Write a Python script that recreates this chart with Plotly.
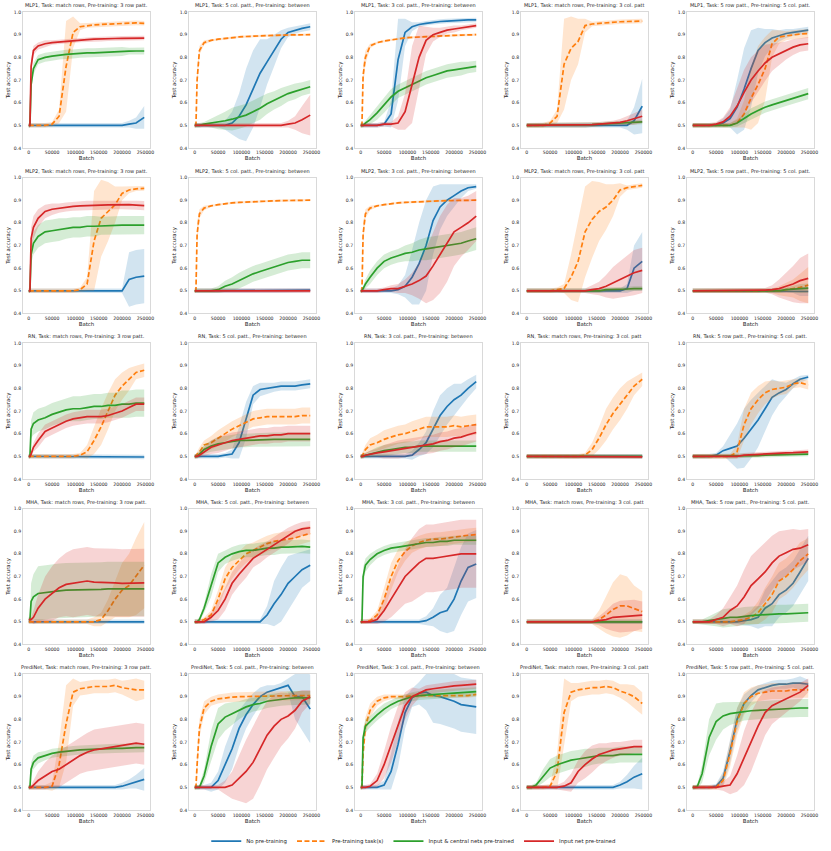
import plotly.graph_objects as go
from plotly.subplots import make_subplots

# --- data ---------------------------------------------------------------
BATCH = [0, 2500, 5000, 10000, 20000, 35000, 50000, 65000, 80000, 95000,
         110000, 125000, 140000, 155000, 170000, 185000, 200000, 215000, 230000, 247500]

MODELS = ["MLP1", "MLP2", "RN", "MHA", "PrediNet"]
TASKS = ["Task: match rows, Pre-training: 3 row patt.",
         "Task: 5 col. patt., Pre-training: between",
         "Task: 3 col. patt., Pre-training: between",
         "Task: match rows, Pre-training: 3 col. patt",
         "Task: 5 row patt., Pre-training: 5 col. patt."]

SERIES = ["No pre-training", "Pre-training task(s)",
          "Input & central nets pre-trained", "Input net pre-trained"]

X_TICKS = [0, 50000, 100000, 150000, 200000, 250000]
Y_TICKS = [0.4, 0.5, 0.6, 0.7, 0.8, 0.9, 1.0]

# each panel: [no pre-training, pre-training task(s), input & central, input net]
# MLP1
p01_mean = [
    [.50,.50,.50,.50,.50,.50,.50,.50,.50,.50, .50,.50,.50,.50,.50,.50,.50,.505,.51,.535],
    [.50,.50,.50,.50,.50,.50,.505,.54,.76,.91, .935,.94,.943,.945,.947,.948,.95,.95,.952,.95],
    [.50,.50,.68,.75,.79,.80,.805,.81,.813,.815, .818,.82,.82,.822,.824,.825,.826,.827,.828,.828],
    [.50,.50,.76,.83,.85,.86,.865,.868,.872,.874, .876,.878,.88,.88,.882,.883,.884,.884,.885,.885]]
p01_sd = [
    [.01,.01,.01,.01,.01,.01,.01,.01,.01,.01, .01,.01,.01,.01,.01,.01,.01,.015,.025,.05],
    [.01,.01,.01,.01,.01,.01,.01,.03,.20,.07, .015,.01,.01,.01,.01,.01,.01,.01,.01,.01],
    [.01,.01,.03,.025,.02,.02,.02,.02,.02,.02, .02,.02,.02,.02,.02,.02,.02,.015,.015,.015],
    [.01,.01,.03,.02,.015,.015,.01,.01,.01,.01, .01,.01,.01,.01,.01,.01,.01,.01,.01,.01]]

p02_mean = [
    [.50,.50,.50,.50,.50,.50,.50,.50,.51,.54, .59,.66,.73,.78,.83,.88,.91,.92,.928,.935],
    [.50,.50,.70,.83,.865,.875,.88,.884,.887,.89, .892,.894,.895,.896,.897,.898,.899,.90,.90,.90],
    [.50,.50,.50,.50,.505,.51,.513,.52,.527,.535, .545,.56,.575,.595,.61,.625,.64,.65,.66,.67],
    [.50,.50,.50,.50,.50,.50,.50,.50,.50,.50, .50,.50,.50,.50,.50,.50,.505,.51,.525,.545]]
p02_sd = [
    [.01,.01,.01,.01,.01,.01,.01,.02,.05,.10, .16,.17,.15,.10,.07,.04,.02,.015,.015,.015],
    [.01,.01,.05,.02,.01,.005,.005,.005,.005,.005, .005,.005,.005,.005,.005,.005,.005,.005,.005,.005],
    [.01,.01,.01,.01,.01,.02,.03,.04,.05,.05, .05,.05,.05,.045,.04,.04,.035,.035,.03,.03],
    [.01,.01,.01,.01,.01,.01,.01,.01,.01,.01, .01,.01,.01,.01,.01,.01,.015,.03,.06,.09]]

p03_mean = [
    [.50,.50,.50,.50,.50,.50,.505,.55,.79,.91, .935,.945,.95,.955,.958,.96,.962,.963,.965,.965],
    [.50,.50,.72,.80,.85,.865,.872,.877,.882,.886, .888,.89,.892,.893,.895,.896,.897,.898,.899,.90],
    [.50,.50,.50,.51,.525,.555,.59,.625,.65,.665, .68,.695,.71,.72,.73,.74,.745,.75,.755,.76],
    [.50,.50,.50,.50,.50,.50,.505,.505,.51,.56, .68,.80,.875,.90,.91,.92,.925,.93,.935,.94]]
p03_sd = [
    [.01,.01,.01,.01,.01,.01,.01,.06,.18,.06, .02,.01,.01,.01,.01,.01,.01,.01,.01,.01],
    [.01,.01,.05,.03,.01,.005,.005,.005,.005,.005, .005,.005,.005,.005,.005,.005,.005,.005,.005,.005],
    [.01,.01,.01,.01,.02,.03,.035,.035,.03,.03, .03,.03,.03,.03,.03,.03,.03,.03,.025,.025],
    [.01,.01,.01,.01,.01,.01,.01,.01,.03,.08, .17,.14,.06,.03,.02,.015,.015,.01,.01,.01]]

p04_mean = [
    [.50,.50,.50,.50,.50,.50,.50,.50,.50,.50, .50,.50,.50,.50,.50,.50,.50,.50,.52,.585],
    [.50,.50,.50,.50,.50,.50,.51,.54,.77,.84, .87,.94,.947,.95,.952,.955,.957,.958,.96,.96],
    [.50,.50,.50,.50,.50,.50,.50,.50,.50,.50, .50,.50,.503,.505,.507,.508,.51,.512,.514,.515],
    [.50,.50,.50,.50,.50,.50,.50,.50,.50,.50, .50,.50,.503,.505,.507,.51,.513,.52,.528,.54]]
p04_sd = [
    [.01,.01,.01,.01,.01,.01,.01,.01,.01,.01, .01,.01,.01,.01,.01,.01,.01,.02,.06,.12],
    [.01,.01,.01,.01,.01,.01,.01,.03,.20,.14, .10,.03,.01,.01,.01,.01,.01,.01,.01,.01],
    [.01,.01,.01,.01,.01,.01,.01,.01,.01,.01, .01,.01,.01,.01,.01,.01,.01,.01,.01,.01],
    [.01,.01,.01,.01,.01,.01,.01,.01,.01,.01, .01,.01,.01,.01,.01,.01,.015,.02,.025,.03]]

p05_mean = [
    [.50,.50,.50,.50,.50,.50,.50,.51,.53,.58, .66,.75,.83,.865,.885,.895,.905,.91,.915,.92],
    [.50,.50,.50,.50,.50,.50,.50,.50,.50,.51, .55,.62,.68,.75,.86,.89,.895,.90,.903,.905],
    [.50,.50,.50,.50,.50,.50,.50,.50,.50,.51, .53,.55,.565,.58,.59,.60,.61,.62,.63,.64],
    [.50,.50,.50,.50,.50,.50,.505,.515,.54,.585, .645,.70,.74,.775,.80,.815,.83,.845,.855,.86]]
p05_sd = [
    [.01,.01,.01,.01,.01,.01,.01,.02,.04,.12, .18,.17,.10,.06,.04,.025,.02,.015,.015,.015],
    [.01,.01,.01,.01,.01,.01,.01,.01,.01,.02, .06,.14,.17,.14,.06,.03,.02,.02,.02,.02],
    [.01,.01,.01,.01,.01,.01,.01,.01,.01,.015, .02,.025,.025,.025,.025,.025,.025,.025,.025,.025],
    [.01,.01,.01,.01,.01,.01,.01,.02,.04,.08, .10,.10,.09,.08,.06,.05,.04,.035,.03,.03]]

# MLP2
p06_mean = [
    [.50,.50,.50,.50,.50,.50,.50,.50,.50,.50, .50,.50,.50,.50,.50,.50,.50,.55,.56,.565],
    [.50,.50,.50,.50,.50,.50,.50,.50,.50,.50, .505,.53,.72,.82,.85,.88,.93,.945,.95,.952],
    [.50,.50,.66,.71,.74,.76,.765,.77,.775,.78, .78,.785,.785,.787,.788,.79,.79,.79,.79,.79],
    [.50,.50,.73,.78,.82,.85,.86,.865,.87,.873, .875,.877,.878,.878,.879,.88,.88,.88,.878,.876]]
p06_sd = [
    [.01,.01,.01,.01,.01,.01,.01,.01,.01,.01, .01,.01,.01,.01,.01,.01,.01,.12,.12,.12],
    [.01,.01,.01,.01,.01,.01,.01,.01,.01,.01, .01,.03,.22,.17,.13,.08,.03,.015,.01,.01],
    [.01,.01,.04,.05,.05,.05,.05,.05,.045,.045, .045,.045,.045,.04,.04,.04,.04,.04,.04,.04],
    [.01,.01,.05,.05,.04,.03,.025,.02,.02,.02, .02,.02,.02,.02,.02,.02,.02,.02,.02,.02]]

p07_mean = [
    [.50,.50,.50,.50,.50,.50,.50,.50,.50,.50, .50,.50,.50,.50,.50,.50,.50,.50,.502,.503],
    [.50,.50,.75,.84,.865,.875,.88,.885,.888,.89, .892,.894,.895,.896,.897,.898,.899,.90,.90,.90],
    [.50,.50,.50,.50,.50,.50,.505,.52,.53,.545, .56,.575,.585,.595,.605,.615,.625,.63,.635,.635],
    [.50,.50,.50,.50,.50,.50,.50,.50,.50,.50, .50,.50,.50,.50,.50,.50,.50,.50,.50,.50]]
p07_sd = [
    [.01,.01,.01,.01,.01,.01,.01,.01,.01,.01, .01,.01,.01,.01,.01,.01,.01,.01,.01,.01],
    [.01,.01,.05,.02,.01,.005,.005,.005,.005,.005, .005,.005,.005,.005,.005,.005,.005,.005,.005,.005],
    [.01,.01,.01,.01,.01,.01,.015,.025,.03,.035, .035,.035,.035,.035,.035,.035,.035,.035,.035,.035],
    [.01,.01,.01,.01,.01,.01,.01,.01,.01,.01, .01,.01,.01,.01,.01,.01,.01,.01,.01,.01]]

p08_mean = [
    [.50,.50,.50,.50,.50,.50,.50,.50,.505,.52, .56,.62,.70,.81,.87,.90,.92,.94,.955,.96],
    [.50,.50,.75,.84,.865,.875,.88,.885,.888,.89, .892,.894,.895,.896,.897,.898,.899,.90,.90,.90],
    [.50,.50,.51,.53,.56,.60,.63,.645,.655,.665, .67,.68,.685,.69,.695,.70,.705,.71,.72,.73],
    [.50,.50,.50,.50,.50,.50,.505,.51,.51,.52, .53,.545,.565,.61,.66,.71,.76,.78,.80,.83]]
p08_sd = [
    [.01,.01,.01,.01,.01,.01,.01,.01,.02,.05, .12,.18,.20,.15,.10,.07,.05,.03,.015,.01],
    [.01,.01,.05,.02,.01,.005,.005,.005,.005,.005, .005,.005,.005,.005,.005,.005,.005,.005,.005,.005],
    [.01,.01,.01,.02,.03,.03,.03,.03,.03,.035, .04,.045,.05,.05,.05,.05,.05,.05,.05,.05],
    [.01,.01,.01,.01,.01,.01,.01,.015,.02,.03, .05,.08,.12,.15,.17,.17,.15,.13,.12,.11]]

p09_mean = [
    [.50,.50,.50,.50,.50,.50,.50,.50,.50,.50, .50,.50,.50,.50,.50,.50,.50,.51,.60,.63],
    [.50,.50,.50,.50,.50,.50,.50,.505,.51,.56, .63,.76,.815,.85,.87,.90,.945,.955,.96,.965],
    [.50,.50,.50,.50,.50,.50,.50,.50,.50,.50, .50,.50,.50,.50,.505,.505,.507,.508,.51,.51],
    [.50,.50,.50,.50,.50,.50,.50,.50,.50,.50, .50,.50,.505,.51,.52,.535,.55,.565,.58,.59]]
p09_sd = [
    [.01,.01,.01,.01,.01,.01,.01,.01,.01,.01, .01,.01,.01,.01,.01,.01,.01,.02,.10,.13],
    [.01,.01,.01,.01,.01,.01,.01,.01,.02,.10, .18,.20,.17,.13,.10,.07,.03,.01,.01,.01],
    [.01,.01,.01,.01,.01,.01,.01,.01,.01,.01, .01,.01,.01,.01,.01,.01,.01,.01,.01,.01],
    [.01,.01,.01,.01,.01,.01,.01,.01,.01,.01, .01,.01,.02,.03,.05,.07,.08,.09,.10,.10]]

p10_mean = [
    [.50,.50,.50,.50,.50,.50,.50,.50,.50,.50, .50,.50,.50,.50,.50,.50,.50,.50,.497,.497],
    [.50,.50,.50,.50,.50,.50,.50,.50,.50,.50, .50,.50,.50,.50,.50,.50,.505,.51,.515,.525],
    [.50,.50,.50,.50,.50,.50,.50,.50,.50,.50, .50,.50,.50,.50,.50,.50,.505,.507,.51,.512],
    [.50,.50,.50,.50,.50,.50,.50,.50,.50,.50, .50,.50,.50,.503,.505,.51,.52,.53,.545,.555]]
p10_sd = [
    [.01,.01,.01,.01,.01,.01,.01,.01,.01,.01, .01,.01,.01,.01,.01,.01,.01,.01,.02,.02],
    [.01,.01,.01,.01,.01,.01,.01,.01,.01,.01, .01,.01,.01,.01,.01,.02,.03,.04,.06,.08],
    [.01,.01,.01,.01,.01,.01,.01,.01,.01,.01, .01,.01,.01,.01,.01,.01,.01,.015,.02,.02],
    [.01,.01,.01,.01,.01,.01,.01,.01,.01,.01, .01,.01,.01,.01,.02,.04,.06,.08,.10,.11]]

# RN
p11_mean = [
    [.50,.50,.50,.50,.50,.50,.50,.50,.50,.50, .50,.50,.50,.50,.50,.50,.50,.50,.497,.497],
    [.50,.50,.50,.50,.50,.50,.50,.50,.50,.50, .505,.52,.57,.63,.70,.77,.81,.84,.87,.88],
    [.50,.50,.62,.645,.66,.67,.685,.695,.705,.71, .71,.715,.72,.72,.725,.725,.73,.73,.735,.735],
    [.50,.50,.51,.54,.57,.61,.625,.64,.655,.665, .67,.675,.675,.675,.68,.69,.70,.715,.73,.73]]
p11_sd = [
    [.01,.01,.01,.01,.01,.01,.01,.01,.01,.01, .01,.01,.01,.01,.01,.01,.01,.01,.01,.01],
    [.01,.01,.01,.01,.01,.01,.01,.01,.01,.01, .01,.03,.06,.08,.08,.07,.06,.05,.03,.03],
    [.01,.01,.04,.05,.05,.05,.05,.05,.05,.055, .055,.055,.055,.055,.055,.055,.06,.06,.06,.06],
    [.01,.01,.01,.02,.03,.03,.03,.03,.03,.03, .03,.03,.03,.03,.03,.03,.03,.03,.03,.03]]

p12_mean = [
    [.50,.50,.50,.50,.50,.50,.50,.505,.51,.56, .66,.77,.795,.80,.805,.81,.81,.81,.815,.82],
    [.50,.50,.51,.52,.55,.56,.58,.60,.62,.635, .65,.665,.67,.675,.675,.675,.675,.675,.68,.68],
    [.50,.50,.50,.51,.53,.545,.555,.56,.565,.57, .57,.572,.573,.574,.575,.575,.575,.575,.575,.575],
    [.50,.50,.50,.505,.52,.54,.55,.56,.57,.575, .58,.585,.59,.59,.595,.595,.60,.60,.60,.60]]
p12_sd = [
    [.01,.01,.01,.01,.01,.01,.01,.01,.02,.07, .08,.04,.03,.025,.02,.02,.02,.02,.02,.02],
    [.01,.01,.01,.02,.02,.03,.035,.035,.035,.035, .035,.035,.035,.035,.035,.035,.035,.035,.035,.035],
    [.01,.01,.01,.015,.02,.025,.03,.03,.03,.03, .03,.03,.03,.03,.03,.03,.03,.03,.03,.03],
    [.01,.01,.01,.015,.02,.03,.035,.035,.035,.035, .035,.035,.035,.035,.035,.035,.035,.035,.035,.035]]

p13_mean = [
    [.50,.50,.50,.50,.50,.50,.50,.50,.50,.50, .505,.53,.56,.62,.68,.72,.75,.77,.80,.83],
    [.50,.50,.51,.53,.55,.56,.575,.585,.595,.60, .61,.62,.63,.63,.63,.63,.635,.63,.635,.64],
    [.50,.50,.50,.505,.51,.52,.525,.53,.535,.54, .54,.545,.545,.545,.545,.545,.545,.545,.545,.545],
    [.50,.50,.50,.505,.51,.515,.52,.525,.53,.535, .54,.545,.55,.555,.565,.57,.58,.585,.595,.605]]
p13_sd = [
    [.01,.01,.01,.01,.01,.01,.01,.01,.01,.01, .02,.03,.05,.08,.09,.08,.07,.05,.04,.03],
    [.01,.01,.015,.02,.03,.035,.04,.04,.04,.04, .045,.045,.045,.045,.045,.045,.045,.045,.045,.045],
    [.01,.01,.01,.01,.015,.02,.025,.025,.025,.025, .025,.025,.025,.025,.025,.025,.025,.025,.025,.025],
    [.01,.01,.01,.01,.015,.02,.03,.035,.04,.04, .04,.04,.04,.04,.04,.04,.04,.04,.04,.04]]

p14_mean = [
    [.50,.50,.50,.50,.50,.50,.50,.50,.50,.50, .50,.50,.50,.50,.50,.50,.50,.50,.50,.50],
    [.50,.50,.50,.50,.50,.50,.50,.50,.50,.50, .50,.505,.53,.58,.64,.69,.73,.77,.81,.84],
    [.50,.50,.50,.50,.50,.50,.50,.50,.50,.50, .50,.50,.50,.50,.50,.50,.50,.50,.50,.50],
    [.50,.50,.50,.50,.50,.50,.50,.50,.50,.50, .50,.50,.50,.50,.50,.50,.50,.50,.498,.498]]
p14_sd = [
    [.01,.01,.01,.01,.01,.01,.01,.01,.01,.01, .01,.01,.01,.01,.01,.01,.01,.01,.01,.01],
    [.01,.01,.01,.01,.01,.01,.01,.01,.01,.01, .01,.01,.03,.05,.07,.07,.07,.06,.04,.03],
    [.01,.01,.01,.01,.01,.01,.01,.01,.01,.01, .01,.01,.01,.01,.01,.01,.01,.01,.01,.01],
    [.01,.01,.01,.01,.01,.01,.01,.01,.01,.01, .01,.01,.01,.01,.01,.01,.01,.01,.01,.01]]

p15_mean = [
    [.50,.50,.50,.50,.50,.50,.505,.525,.535,.545, .58,.62,.66,.71,.76,.78,.795,.82,.84,.85],
    [.50,.50,.50,.50,.50,.50,.50,.50,.50,.52, .64,.71,.75,.78,.795,.80,.805,.82,.825,.815],
    [.50,.50,.50,.50,.50,.50,.50,.50,.50,.50, .50,.502,.503,.505,.506,.507,.507,.508,.509,.51],
    [.50,.50,.50,.50,.50,.50,.50,.50,.50,.50, .505,.507,.51,.511,.512,.513,.515,.516,.518,.52]]
p15_sd = [
    [.01,.01,.01,.01,.01,.01,.01,.02,.06,.10, .13,.13,.12,.10,.08,.05,.03,.02,.015,.01],
    [.01,.01,.01,.01,.01,.01,.01,.01,.01,.03, .07,.07,.06,.05,.04,.03,.03,.02,.02,.02],
    [.01,.01,.01,.01,.01,.01,.01,.01,.01,.01, .01,.01,.01,.01,.01,.01,.01,.01,.01,.01],
    [.01,.01,.01,.01,.01,.01,.01,.01,.01,.01, .01,.01,.01,.01,.01,.01,.01,.01,.01,.01]]

# MHA
p16_mean = [
    [.50,.50,.50,.50,.50,.50,.50,.50,.50,.50, .50,.50,.50,.50,.50,.50,.50,.50,.50,.50],
    [.50,.50,.50,.50,.50,.50,.50,.50,.50,.50, .50,.50,.50,.51,.55,.60,.64,.66,.70,.75],
    [.51,.51,.59,.61,.625,.63,.635,.637,.64,.64, .64,.642,.642,.643,.645,.645,.647,.648,.645,.645],
    [.51,.51,.51,.52,.56,.60,.625,.65,.665,.67, .675,.68,.675,.675,.675,.672,.67,.67,.672,.672]]
p16_sd = [
    [.01,.01,.01,.01,.01,.01,.01,.01,.01,.01, .01,.01,.01,.01,.01,.01,.01,.01,.01,.01],
    [.01,.01,.01,.01,.01,.01,.01,.01,.01,.01, .01,.01,.02,.03,.05,.08,.12,.14,.17,.19],
    [.01,.01,.08,.10,.12,.12,.12,.12,.12,.12, .12,.12,.12,.12,.12,.12,.12,.12,.12,.12],
    [.01,.01,.01,.03,.06,.10,.12,.13,.14,.15, .15,.15,.15,.15,.15,.15,.15,.15,.15,.15]]

p17_mean = [
    [.50,.50,.50,.50,.50,.50,.50,.50,.50,.50, .50,.50,.50,.53,.58,.62,.67,.70,.73,.75],
    [.50,.50,.50,.50,.51,.53,.60,.69,.74,.77, .80,.815,.83,.845,.855,.86,.865,.87,.88,.89],
    [.50,.50,.50,.51,.56,.66,.76,.785,.80,.81, .815,.815,.82,.825,.825,.83,.83,.833,.833,.83],
    [.50,.50,.50,.50,.50,.52,.55,.60,.67,.71, .745,.78,.80,.82,.84,.86,.88,.90,.91,.915]]
p17_sd = [
    [.01,.01,.01,.01,.01,.01,.01,.01,.01,.01, .01,.01,.01,.04,.10,.12,.12,.10,.08,.07],
    [.01,.01,.01,.01,.01,.02,.04,.05,.05,.04, .04,.035,.035,.035,.035,.035,.035,.035,.035,.035],
    [.01,.01,.01,.01,.02,.05,.04,.03,.03,.03, .03,.03,.03,.03,.03,.03,.03,.03,.03,.03],
    [.01,.01,.01,.01,.01,.02,.04,.05,.05,.05, .05,.04,.04,.035,.035,.035,.035,.03,.03,.03]]

p18_mean = [
    [.50,.50,.50,.50,.50,.50,.50,.50,.50,.50, .50,.50,.505,.52,.54,.55,.60,.68,.74,.755],
    [.50,.50,.50,.50,.505,.53,.60,.70,.77,.81, .835,.85,.86,.865,.865,.87,.875,.88,.882,.885],
    [.50,.50,.70,.75,.775,.80,.815,.825,.83,.835, .84,.845,.85,.85,.855,.855,.86,.86,.86,.86],
    [.50,.50,.50,.50,.50,.51,.55,.60,.65,.70, .73,.76,.78,.78,.785,.79,.795,.80,.80,.80]]
p18_sd = [
    [.01,.01,.01,.01,.01,.01,.01,.01,.01,.01, .01,.01,.02,.04,.08,.10,.14,.15,.15,.15],
    [.01,.01,.01,.01,.01,.02,.05,.06,.05,.04, .03,.03,.03,.03,.03,.03,.03,.03,.03,.03],
    [.01,.01,.04,.03,.025,.02,.02,.02,.02,.02, .02,.02,.02,.02,.02,.02,.02,.02,.02,.02],
    [.01,.01,.01,.01,.01,.02,.05,.08,.10,.12, .14,.15,.15,.15,.15,.15,.15,.15,.15,.15]]

p19_mean = [
    [.50,.50,.50,.50,.50,.50,.50,.50,.50,.50, .50,.50,.50,.50,.50,.50,.50,.50,.50,.50],
    [.50,.50,.50,.50,.50,.50,.50,.50,.50,.50, .50,.50,.50,.51,.53,.555,.57,.57,.56,.545],
    [.50,.50,.50,.50,.50,.50,.50,.50,.50,.50, .50,.50,.50,.50,.50,.50,.50,.50,.50,.50],
    [.50,.50,.50,.50,.50,.50,.50,.50,.50,.50, .50,.50,.50,.505,.51,.52,.523,.525,.528,.53]]
p19_sd = [
    [.01,.01,.01,.01,.01,.01,.01,.01,.01,.01, .01,.01,.01,.01,.01,.01,.01,.01,.01,.01],
    [.01,.01,.01,.01,.01,.01,.01,.01,.01,.01, .01,.01,.01,.04,.08,.12,.14,.13,.10,.09],
    [.01,.01,.01,.01,.01,.01,.01,.01,.01,.01, .01,.01,.01,.01,.01,.01,.01,.01,.01,.01],
    [.01,.01,.01,.01,.01,.01,.01,.01,.01,.01, .01,.01,.01,.02,.04,.06,.07,.07,.07,.06]]

p20_mean = [
    [.50,.50,.50,.50,.50,.50,.50,.50,.50,.50, .505,.51,.52,.56,.58,.62,.64,.67,.72,.78],
    [.50,.50,.50,.50,.50,.50,.50,.50,.50,.505, .51,.52,.54,.58,.62,.68,.70,.73,.77,.80],
    [.50,.50,.50,.50,.50,.505,.51,.515,.52,.52, .525,.527,.53,.532,.535,.535,.535,.537,.54,.54],
    [.50,.50,.50,.50,.50,.50,.51,.52,.55,.57, .61,.66,.69,.72,.76,.79,.805,.82,.825,.84]]
p20_sd = [
    [.01,.01,.01,.01,.01,.01,.01,.01,.01,.01, .02,.03,.05,.08,.10,.10,.10,.10,.10,.10],
    [.01,.01,.01,.01,.01,.01,.01,.01,.01,.01, .02,.03,.05,.07,.08,.08,.08,.08,.08,.07],
    [.01,.01,.01,.01,.01,.02,.03,.04,.04,.04, .04,.04,.04,.04,.04,.04,.04,.04,.04,.04],
    [.01,.01,.01,.01,.01,.01,.02,.04,.06,.09, .12,.13,.13,.13,.12,.11,.10,.09,.08,.07]]

# PrediNet
p21_mean = [
    [.50,.50,.50,.50,.50,.50,.50,.50,.50,.50, .50,.50,.50,.50,.50,.50,.505,.515,.525,.535],
    [.50,.50,.50,.50,.50,.50,.505,.60,.78,.92, .935,.94,.945,.945,.945,.95,.94,.935,.93,.93],
    [.50,.50,.58,.61,.63,.64,.65,.655,.66,.662, .665,.667,.668,.67,.67,.672,.672,.674,.675,.675],
    [.50,.50,.50,.51,.53,.55,.57,.58,.60,.62, .64,.655,.665,.67,.675,.68,.685,.69,.695,.69]]
p21_sd = [
    [.01,.01,.01,.01,.01,.01,.01,.01,.01,.01, .01,.01,.01,.01,.01,.01,.015,.02,.03,.05],
    [.01,.01,.01,.01,.01,.01,.02,.10,.17,.06, .03,.03,.03,.03,.03,.03,.03,.04,.05,.04],
    [.01,.01,.03,.03,.025,.02,.02,.02,.02,.02, .02,.02,.02,.02,.02,.02,.02,.02,.02,.02],
    [.01,.01,.01,.02,.04,.06,.07,.08,.08,.08, .08,.085,.09,.09,.09,.09,.09,.09,.09,.09]]

p22_mean = [
    [.50,.50,.50,.50,.50,.50,.53,.60,.67,.76, .82,.865,.90,.92,.93,.94,.95,.90,.90,.845],
    [.50,.50,.60,.76,.85,.88,.89,.895,.898,.90, .90,.90,.901,.902,.903,.904,.905,.905,.905,.905],
    [.50,.50,.50,.50,.55,.68,.78,.81,.825,.84, .855,.865,.87,.88,.885,.89,.892,.895,.895,.895],
    [.50,.50,.50,.50,.50,.50,.50,.50,.51,.54, .57,.61,.67,.73,.77,.80,.815,.84,.88,.90]]
p22_sd = [
    [.01,.01,.01,.01,.01,.02,.04,.08,.09,.08, .06,.05,.04,.03,.02,.02,.03,.10,.15,.15],
    [.01,.01,.05,.04,.03,.02,.02,.02,.02,.02, .02,.02,.02,.02,.02,.02,.02,.02,.02,.02],
    [.01,.01,.01,.01,.03,.07,.07,.06,.05,.04, .035,.03,.03,.03,.03,.03,.03,.03,.03,.03],
    [.01,.01,.01,.01,.01,.01,.01,.03,.06,.10, .14,.16,.16,.15,.14,.12,.10,.08,.05,.03]]

p23_mean = [
    [.50,.50,.50,.50,.50,.50,.51,.57,.69,.83, .895,.915,.92,.905,.90,.89,.88,.865,.86,.855],
    [.50,.50,.65,.77,.84,.88,.895,.90,.90,.90, .905,.905,.905,.905,.905,.905,.905,.905,.905,.91],
    [.50,.50,.72,.77,.79,.82,.845,.865,.88,.89, .90,.905,.908,.91,.912,.914,.916,.918,.92,.922],
    [.50,.50,.50,.50,.505,.53,.60,.69,.78,.86, .90,.915,.93,.935,.94,.945,.948,.95,.952,.955]]
p23_sd = [
    [.01,.01,.01,.01,.01,.01,.02,.08,.10,.07, .04,.05,.08,.12,.12,.12,.12,.12,.12,.12],
    [.01,.01,.05,.04,.03,.02,.015,.01,.01,.01, .01,.01,.01,.01,.01,.01,.01,.01,.01,.01],
    [.01,.01,.04,.03,.025,.025,.025,.02,.02,.02, .02,.02,.02,.02,.02,.02,.02,.02,.02,.02],
    [.01,.01,.01,.01,.01,.03,.06,.08,.08,.06, .04,.02,.02,.02,.02,.02,.02,.02,.02,.02]]

p24_mean = [
    [.50,.50,.50,.50,.50,.50,.50,.50,.50,.50, .50,.50,.50,.50,.50,.50,.51,.525,.545,.56],
    [.50,.50,.50,.50,.50,.50,.505,.57,.83,.92, .93,.935,.94,.94,.945,.94,.925,.915,.90,.87],
    [.50,.50,.50,.50,.51,.55,.585,.60,.61,.62, .625,.63,.635,.64,.64,.64,.645,.645,.645,.645],
    [.50,.50,.50,.50,.50,.50,.50,.50,.505,.52, .57,.60,.625,.645,.655,.665,.67,.675,.68,.68]]
p24_sd = [
    [.01,.01,.01,.01,.01,.01,.01,.01,.01,.01, .01,.01,.01,.01,.01,.01,.015,.03,.05,.07],
    [.01,.01,.01,.01,.01,.01,.01,.08,.15,.04, .03,.03,.03,.03,.03,.03,.03,.04,.05,.05],
    [.01,.01,.01,.01,.01,.03,.04,.04,.04,.04, .04,.04,.035,.035,.035,.035,.035,.035,.035,.035],
    [.01,.01,.01,.01,.01,.01,.01,.01,.02,.04, .05,.06,.06,.05,.04,.035,.03,.03,.03,.03]]

p25_mean = [
    [.50,.50,.50,.50,.50,.50,.505,.54,.66,.80, .87,.905,.93,.94,.95,.955,.955,.96,.96,.955],
    [.50,.50,.50,.50,.50,.50,.50,.53,.65,.79, .87,.90,.915,.92,.925,.925,.925,.93,.93,.93],
    [.50,.50,.50,.505,.56,.72,.79,.815,.825,.83, .835,.838,.84,.842,.845,.847,.848,.85,.85,.85],
    [.50,.50,.50,.50,.50,.50,.50,.505,.51,.56, .63,.70,.77,.83,.86,.875,.89,.905,.92,.95]]
p25_sd = [
    [.01,.01,.01,.01,.01,.01,.01,.03,.05,.05, .04,.03,.02,.02,.02,.02,.02,.02,.03,.02],
    [.01,.01,.01,.01,.01,.01,.01,.03,.06,.06, .05,.04,.035,.035,.035,.035,.035,.035,.035,.035],
    [.01,.01,.01,.01,.04,.08,.08,.06,.05,.045, .04,.04,.04,.04,.04,.04,.04,.04,.04,.04],
    [.01,.01,.01,.01,.01,.01,.01,.02,.04,.08, .12,.13,.12,.10,.08,.07,.06,.05,.04,.03]]

PANEL_MEAN = [p01_mean, p02_mean, p03_mean, p04_mean, p05_mean,
              p06_mean, p07_mean, p08_mean, p09_mean, p10_mean,
              p11_mean, p12_mean, p13_mean, p14_mean, p15_mean,
              p16_mean, p17_mean, p18_mean, p19_mean, p20_mean,
              p21_mean, p22_mean, p23_mean, p24_mean, p25_mean]
PANEL_SD = [p01_sd, p02_sd, p03_sd, p04_sd, p05_sd,
            p06_sd, p07_sd, p08_sd, p09_sd, p10_sd,
            p11_sd, p12_sd, p13_sd, p14_sd, p15_sd,
            p16_sd, p17_sd, p18_sd, p19_sd, p20_sd,
            p21_sd, p22_sd, p23_sd, p24_sd, p25_sd]

# --- style --------------------------------------------------------------
COLORS = ["#1f77b4", "#ff7f0e", "#2ca02c", "#d62728"]
BANDS = ["rgba(31,119,180,0.2)", "rgba(255,127,14,0.2)",
         "rgba(44,160,44,0.2)", "rgba(214,39,40,0.2)"]
DASHES = ["solid", "5px,2.5px", "solid", "solid"]
FONT = "DejaVu Sans"
INK = "#262626"

fig = make_subplots(rows=5, cols=5, horizontal_spacing=0.0493, vertical_spacing=0.037)

for i, (means, sds) in enumerate(zip(PANEL_MEAN, PANEL_SD)):
    r, c = i // 5 + 1, i % 5 + 1
    for k in range(4):
        m, s = means[k], sds[k]
        hi = [a + b for a, b in zip(m, s)]
        lo = [a - b for a, b in zip(m, s)]
        fig.add_trace(go.Scatter(x=BATCH + BATCH[::-1], y=hi + lo[::-1],
                                 fill="toself", fillcolor=BANDS[k],
                                 line=dict(width=0), mode="lines",
                                 hoverinfo="skip", showlegend=False), row=r, col=c)
        fig.add_trace(go.Scatter(x=BATCH, y=m, mode="lines", name=SERIES[k],
                                 line=dict(color=COLORS[k], width=1.7, dash=DASHES[k]),
                                 legendgroup=SERIES[k], showlegend=(i == 0)),
                      row=r, col=c)

fig.update_xaxes(range=[-12375, 259875], tickvals=X_TICKS, tickformat="d",
                 showgrid=False, zeroline=False, ticks="", automargin=False,
                 showline=True, mirror=True, linecolor="#d9d9d9", linewidth=1,
                 tickfont=dict(family=FONT, size=4.6, color=INK),
                 title=dict(text="Batch", font=dict(family=FONT, size=5.4, color=INK),
                            standoff=1))
fig.update_yaxes(range=[0.4, 1.0], tickvals=Y_TICKS, tickformat=".1f",
                 showgrid=False, zeroline=False, ticks="", automargin=False,
                 showline=True, mirror=True, linecolor="#d9d9d9", linewidth=1,
                 tickfont=dict(family=FONT, size=4.6, color=INK),
                 title=dict(text="Test accuracy", font=dict(family=FONT, size=5.4, color=INK),
                            standoff=2))

# panel titles
for i in range(25):
    r, c = i // 5, i % 5
    xa = fig.layout["xaxis" + ("" if i == 0 else str(i + 1))]
    ya = fig.layout["yaxis" + ("" if i == 0 else str(i + 1))]
    fig.add_annotation(x=(xa.domain[0] + xa.domain[1]) / 2, y=ya.domain[1],
                       xref="paper", yref="paper", xanchor="center", yanchor="bottom",
                       yshift=1, showarrow=False,
                       text=f"{MODELS[r]}, {TASKS[c]}",
                       font=dict(family=FONT, size=5.0, color=INK))

fig.update_layout(width=831, height=851,
                  margin=dict(l=23, r=17, t=12, b=41, autoexpand=False),
                  paper_bgcolor="white", plot_bgcolor="white",
                  font=dict(family=FONT, color=INK),
                  legend=dict(orientation="h", x=0.494, y=-0.039,
                              xanchor="center", yanchor="middle",
                              font=dict(family=FONT, size=5.4, color=INK),
                              itemwidth=30, tracegroupgap=0),
                  showlegend=True)

# the page body has a default 8px margin; drop it so the figure sits at (0, 0)
fig.write_html("out.html", config={"displayModeBar": False},
               post_script="document.body.style.margin = '0';")
